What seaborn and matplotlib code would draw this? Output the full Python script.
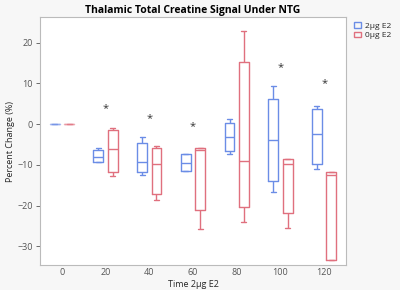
import seaborn as sns
import matplotlib.pyplot as plt
import numpy as np
import pandas as pd

# five values per box -> min, Q1, median, Q3, max
times = ["0", "20", "40", "60", "80", "100", "120"]
groups = ["2µg E2", "0µg E2"]
e2_2ug = [
    [0, 0, 0, 0, 0],
    [-9.2, -9.2, -8.0, -6.3, -5.8],
    [-12.4, -11.7, -9.4, -4.7, -3.2],
    [-11.4, -11.4, -9.5, -7.4, -7.4],
    [-7.2, -6.6, -3.1, 0.3, 1.2],
    [-16.7, -13.9, -3.9, 6.3, 9.4],
    [-10.9, -9.9, -2.3, 3.8, 4.5],
]
e2_0ug = [
    [0, 0, 0, 0, 0],
    [-12.7, -11.7, -6.0, -1.4, -0.9],
    [-18.6, -17.1, -9.8, -5.8, -5.4],
    [-25.8, -21.0, -6.3, -5.8, -5.8],
    [-24.0, -20.3, -9.0, 15.3, 22.9],
    [-25.5, -21.8, -9.9, -8.5, -8.5],
    [-33.4, -33.4, -12.5, -11.8, -11.8],
]
star_times = ["20", "40", "60", "100", "120"]
star_y = [3.8, 1.3, -0.6, 13.8, 9.9]

rows = []
for t, a, b in zip(times, e2_2ug, e2_0ug):
    for v in a:
        rows.append((t, groups[0], v))
    for v in b:
        rows.append((t, groups[1], v))
df = pd.DataFrame(rows, columns=["time", "group", "value"])

sns.set_style("white")
plt.rcParams["font.family"] = ["Open Sans", "DejaVu Sans"]

fig = plt.figure(figsize=(4, 2.9), dpi=100, facecolor="#f7f7f7")
ax = fig.add_axes([0.1, 0.086, 0.765, 0.855])
ax.set_facecolor("white")

sns.boxplot(data=df, x="time", y="value", hue="group", order=times,
            hue_order=groups, palette=["#6b8de6", "#e0707e"], fill=False,
            width=0.66, gap=0.32, whis=np.inf, linewidth=1, ax=ax)

# the flat baseline boxes look faded in the original
for line in ax.lines:
    xd = np.asarray(line.get_xdata(), dtype=float)
    if len(xd) and xd.max() < 0.5:
        line.set_alpha(0.45)
for p in ax.patches:
    if p.get_path().get_extents().x1 < 0.5:
        p.set_alpha(0.45)

for t, y in zip(star_times, star_y):
    ax.text(times.index(t), y, "*", ha="center", va="center", fontsize=8,
            color="#333333")

ax.set_xlim(-0.5, 6.5)
ax.set_ylim(-34.6, 26.3)
ax.set_yticks([20, 10, 0, -10, -20, -30])
ax.set_title("Thalamic Total Creatine Signal Under NTG", fontsize=7.5,
             fontweight="bold", pad=3, color="black")
ax.set_xlabel("Time 2µg E2", fontsize=6.5, labelpad=2)
ax.set_ylabel("Percent Change (%)", fontsize=6.5, labelpad=2)
ax.tick_params(labelsize=6.5, colors="#555555", length=3, width=0.6,
               left=True, bottom=True, pad=2)
ax.tick_params(axis="x", length=0)
for s in ax.spines.values():
    s.set_color("#bbbbbb")
    s.set_linewidth(0.8)

ax.legend(loc="upper left", bbox_to_anchor=(1.01, 1.0), frameon=False,
          fontsize=6, handlelength=0.8, handletextpad=0.5, borderaxespad=0.2,
          labelspacing=0.2)

plt.savefig("out.png", dpi=100, facecolor=fig.get_facecolor())
